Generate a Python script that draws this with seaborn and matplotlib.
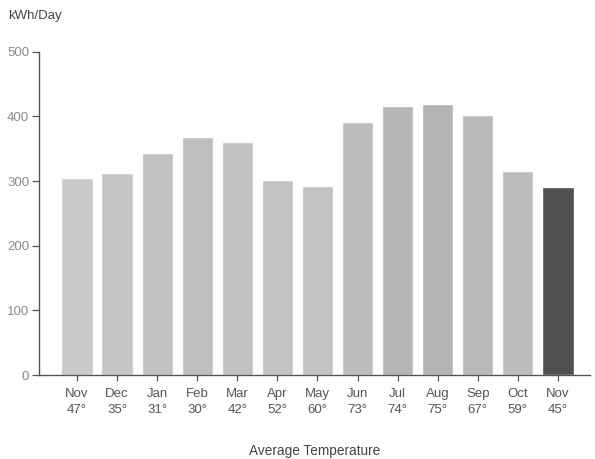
import matplotlib
matplotlib.use("Agg")
import matplotlib.pyplot as plt
import seaborn as sns
import pandas as pd

months = ["Nov", "Dec", "Jan", "Feb", "Mar", "Apr", "May", "Jun", "Jul", "Aug", "Sep", "Oct", "Nov "]
temps = ["47°", "35°", "31°", "30°", "42°", "52°", "60°", "73°", "74°", "75°", "67°", "59°", "45°"]
kwh = [305, 313, 343, 369, 360, 301, 293, 391, 417, 419, 402, 316, 291]
bar_colors = ["#c9c9c9", "#c6c6c6", "#c2c2c2", "#bfbfbf", "#c0c0c0", "#c3c3c3", "#c3c3c3",
              "#bdbdbd", "#b6b6b6", "#b4b4b4", "#b9b9b9", "#bdbdbd", "#505050"]

df = pd.DataFrame({"month": months, "kwh": kwh})

sns.set_theme(style="white")
plt.rcParams["font.family"] = ["Liberation Sans", "DejaVu Sans"]

fig = plt.figure(figsize=(5.95, 4.59), dpi=100)
ax = fig.add_axes([0.0655, 0.183, 0.926, 0.704])

sns.barplot(data=df, x="month", y="kwh", hue="month", palette=bar_colors,
            legend=False, width=0.78, saturation=1, ax=ax)

ax.set_ylim(0, 500)
ax.set_xlim(-0.95, 12.8)
ax.set_yticks([0, 100, 200, 300, 400, 500])
ax.set_xticks(range(len(months)))
ax.set_xticklabels([f"{m.strip()}\n{t}" for m, t in zip(months, temps)],
                   fontsize=9.5, color="#555555", linespacing=1.55)
ax.tick_params(axis="y", labelsize=9.5, labelcolor="#888888", length=5, width=0.9,
               color="#555555", direction="out", left=True, pad=2)
ax.tick_params(axis="x", length=4, width=0.9, color="#555555", direction="out",
               bottom=True, pad=5)

for s in ["top", "right"]:
    ax.spines[s].set_visible(False)
for s in ["left", "bottom"]:
    ax.spines[s].set_color("#555555")
    ax.spines[s].set_linewidth(1.0)

ax.set_ylabel("")
ax.set_xlabel("Average Temperature", fontsize=9.8, color="#444444", labelpad=20)
fig.text(0.014, 0.965, "kWh/Day", fontsize=9.5, color="#444444", ha="left", va="center")

fig.savefig("out.png", dpi=100)
